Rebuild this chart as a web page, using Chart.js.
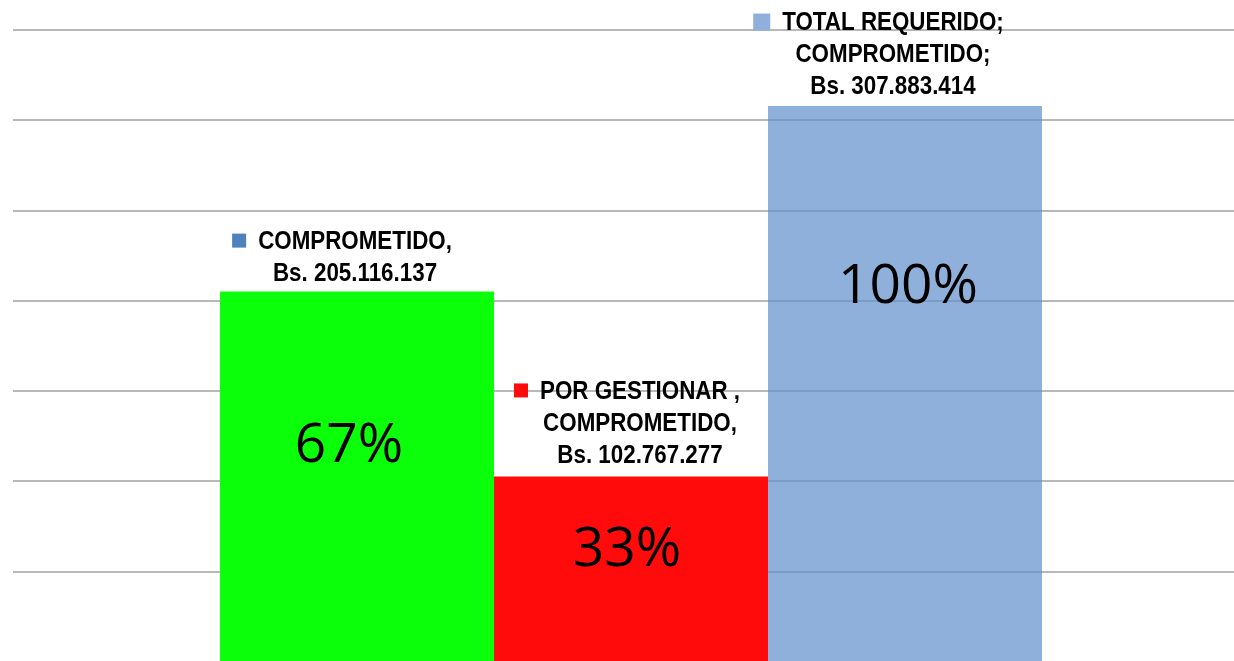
<!DOCTYPE html>
<html>
<head>
<meta charset="utf-8">
<script src="https://cdn.jsdelivr.net/npm/chart.js@4.4.1/dist/chart.umd.min.js"></script>
<style>
    html, body { margin: 0; padding: 0; background: #fff; overflow: hidden; }
    #wrap { position: absolute; left: 0; top: 0; width: 1250px; height: 664px; }
</style>
</head>
<body>
<div id="wrap"><canvas id="montoChart"></canvas></div>
<script>
const categorias = ['COMPROMETIDO', 'POR GESTIONAR', 'TOTAL REQUERIDO']
const montos = [205116137, 102767277, 307883414]
const porcentajes = ['67%', '33%', '100%']
const etiquetas = [
    ['COMPROMETIDO,', 'Bs. 205.116.137'],
    ['POR GESTIONAR ,', 'COMPROMETIDO,', 'Bs. 102.767.277'],
    ['TOTAL REQUERIDO;', 'COMPROMETIDO;', 'Bs. 307.883.414']
]
const ejeMax = 350000000
const ejePaso = 50000000

const colores = ['#0bff0b', '#ff0b0b', 'rgba(94,142,202,0.7)']
const marcas = ['#4f81bd', '#ff0b0b', '#8eb0da']

// ajustes de cada rotulo (a mano, como en la lamina original)
const rotulos = [
    { dx: -2, dy: -50, cuadro: 14, pctDx: -8, pctDy: 155 },
    { dx: 9, dy: -85, cuadro: 14, pctDx: -4, pctDy: 74 },
    { dx: -12, dy: -83, cuadro: 17, pctDx: 3, pctDy: 181 }
]
const estrecho = 0.86 // la fuente original es Arial Narrow

const rotuloPlugin = {
    id: 'rotulos',
    afterDatasetsDraw(chart) {
        const ctx = chart.ctx
        ctx.save()
        for (let i = 0; i < etiquetas.length; i++) {
            const bar = chart.getDatasetMeta(i).data[0]
            const r = rotulos[i]
            // porcentaje dentro de la barra
            ctx.fillStyle = '#000'
            ctx.font = '55px "Open Sans", "Noto Sans", sans-serif'
            ctx.textAlign = 'center'
            ctx.textBaseline = 'middle'
            ctx.fillText(porcentajes[i], bar.x + r.pctDx, bar.y + r.pctDy)

            // rotulo encima
            ctx.font = 'bold 26px "Liberation Sans", Arial, sans-serif'
            const cx = bar.x + r.dx
            etiquetas[i].forEach((linea, j) => {
                const y = bar.y + r.dy + j * 32
                ctx.save()
                ctx.translate(cx, y)
                ctx.scale(estrecho, 1)
                ctx.fillStyle = '#000'
                ctx.fillText(linea, 0, 0)
                ctx.restore()
                if (j === 0) {
                    const w = ctx.measureText(linea).width * estrecho
                    ctx.fillStyle = marcas[i]
                    ctx.fillRect(cx - w / 2 - 12 - r.cuadro, y - r.cuadro / 2 - 1, r.cuadro, r.cuadro)
                }
            })
        }
        ctx.restore()
    }
}

const montoCtx = document.getElementById('montoChart').getContext('2d')
const montoChart = new Chart(montoCtx, {
    type: 'bar',
    data: {
        labels: [''],
        datasets: categorias.map((c, i) => ({
            label: c,
            data: [montos[i]],
            backgroundColor: colores[i],
            borderWidth: 0
        }))
    },
    options: {
        responsive: true,
        maintainAspectRatio: false,
        animation: false,
        categoryPercentage: 0.665,
        barPercentage: 1,
        layout: {
            padding: { left: 13, top: 30, right: 1, bottom: 2 }
        },
        plugins: {
            legend: { display: false },
            tooltip: { enabled: false }
        },
        scales: {
            x: {
                display: false
            },
            y: {
                min: 0,
                max: ejeMax,
                border: { display: false },
                ticks: { display: false, stepSize: ejePaso },
                grid: {
                    color: '#b8b8b8',
                    lineWidth: 2,
                    drawTicks: false
                }
            }
        }
    },
    plugins: [rotuloPlugin]
})
</script>
</body>
</html>
